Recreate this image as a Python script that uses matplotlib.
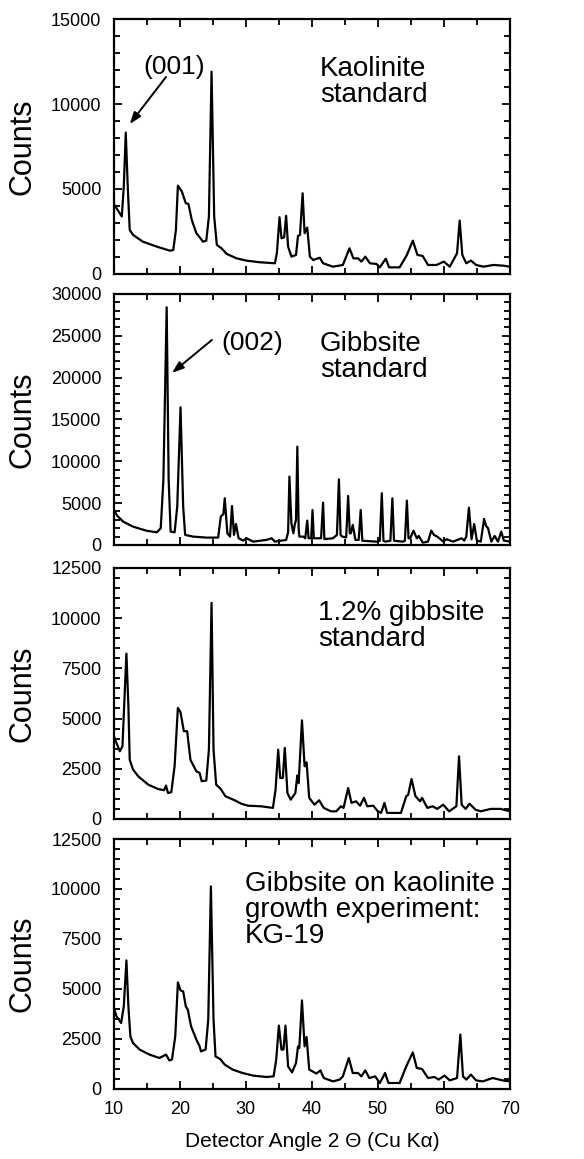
import matplotlib
matplotlib.use("Agg")
import matplotlib.pyplot as plt
from matplotlib.ticker import MultipleLocator

plt.rcParams['font.family'] = ['Liberation Sans', 'DejaVu Sans']

# kaolinite standard
kao_x = [10.0, 10.4, 11.2, 11.5, 11.8, 12.1, 12.4, 12.9, 14.4, 16.5, 18.5, 19.0, 19.4, 19.7, 20.3,
         20.9, 21.3, 21.8, 22.5, 23.0, 23.5, 24.0, 24.4, 24.8, 25.2, 25.6, 26.3, 27.1, 28.6, 30.1,
         32.1, 34.4, 34.7, 35.1, 35.4, 35.8, 36.1, 36.4, 36.9, 37.6, 37.9, 38.2, 38.6, 38.9, 39.3,
         39.7, 40.2, 41.2, 41.7, 43.2, 44.7, 45.7, 46.3, 47.0, 47.5, 48.1, 48.8, 49.8, 50.3, 51.2,
         51.7, 53.3, 54.4, 55.3, 56.0, 56.8, 57.6, 58.9, 60.0, 60.9, 62.0, 62.4, 62.8, 63.4, 64.1,
         64.9, 66.0, 67.5, 69.0, 70.0]
kao_y = [4100, 3870, 3380, 5140, 8320, 5140, 2590, 2300, 1900, 1610, 1370, 1410, 2590, 5200, 4850,
         4160, 4120, 3180, 2400, 2160, 1900, 1960, 3380, 11900, 3380, 1710, 1510, 1180, 920, 785,
         690, 630, 1220, 3340, 2100, 2160, 3420, 1610, 1020, 1120, 2240, 2300, 4750, 2400, 2730,
         1020, 820, 960, 630, 430, 530, 1510, 920, 920, 730, 1020, 630, 590, 390, 900,
         390, 390, 1120, 1960, 1120, 1060, 530, 530, 730, 430, 1220, 3140, 1120, 630, 790,
         530, 430, 530, 490, 430]

# gibbsite standard
gib_x = [10.0, 10.5, 11.4, 12.9, 14.9, 16.5, 17.1, 17.5, 18.0, 18.3, 18.6, 19.2, 19.6, 20.1, 20.5,
         20.8, 22.0, 24.0, 25.8, 26.2, 26.6, 26.8, 27.2, 27.6, 27.9, 28.2, 28.5, 28.9, 29.6, 30.1,
         31.1, 33.1, 33.9, 34.4, 36.1, 36.4, 36.6, 36.9, 37.2, 37.4, 37.6, 37.8, 38.0, 38.1, 38.7,
         39.0, 39.3, 39.5, 39.9, 40.1, 40.3, 41.4, 41.7, 41.9, 43.2, 43.8, 44.1, 44.35, 44.6, 45.2,
         45.5, 45.75, 45.9, 46.2, 46.6, 47.1, 47.4, 47.65, 49.8, 50.3, 50.6, 50.85, 51.1, 51.9, 52.2,
         52.45, 53.8, 54.1, 54.4, 54.65, 54.9, 55.4, 55.9, 56.2, 56.8, 57.6, 58.1, 58.5, 59.0, 59.5,
         59.9, 60.4, 61.4, 62.7, 63.1, 63.4, 63.8, 64.2, 64.6, 65.0, 65.6, 66.1, 66.4, 66.7, 67.2,
         67.7, 68.2, 68.7, 69.1, 70.0]
gib_y = [4180, 3500, 2790, 2190, 1710, 1510, 1990, 7770, 28400, 7770, 1590, 1510, 4580, 16450, 4580,
         1200, 1000, 880, 880, 3390, 3700, 5580, 1390, 1000, 4660, 1200, 2510, 800, 520, 800,
         400, 600, 800, 400, 600, 1500, 8170, 2590, 1390, 2390, 3000, 11750, 2000, 1000, 1000,
         800, 2910, 800, 800, 4180, 800, 800, 5060, 700, 800, 1200, 7850, 1200, 1000, 900,
         5860, 1390, 1390, 2390, 600, 600, 4180, 500, 400, 500, 6180, 500, 400, 500, 5580,
         500, 400, 500, 5300, 800, 800, 1710, 800, 1080, 280, 400, 1710, 1200, 1000, 680,
         400, 680, 400, 800, 520, 1000, 4460, 680, 2510, 520, 400, 3110, 2270, 2000, 400,
         1080, 400, 1590, 520, 400]

# 1.2% gibbsite standard
mix_x = [10.0, 10.4, 10.9, 11.3, 11.6, 11.9, 12.2, 12.4, 12.9, 13.7, 15.2, 16.7, 17.6, 17.9, 18.2,
         18.7, 19.2, 19.7, 20.1, 20.6, 21.1, 21.6, 22.5, 23.0, 23.3, 24.0, 24.4, 24.8, 25.1, 25.5,
         26.2, 26.9, 28.3, 29.3, 30.3, 32.3, 34.1, 34.5, 34.9, 35.2, 35.6, 35.9, 36.3, 36.8, 37.5,
         37.8, 38.0, 38.5, 38.9, 39.2, 39.6, 40.4, 41.1, 41.8, 42.9, 43.7, 44.4, 44.8, 45.5, 46.0,
         46.7, 47.3, 47.9, 48.4, 49.3, 50.0, 50.5, 51.0, 51.4, 53.5, 54.3, 54.6, 55.1, 55.7, 56.4,
         56.7, 57.5, 58.3, 59.0, 59.9, 60.8, 61.9, 62.3, 62.7, 63.3, 63.9, 64.8, 65.6, 67.1, 68.6,
         70.0]
mix_y = [4120, 3780, 3370, 3620, 5940, 8230, 5610, 2950, 2460, 2120, 1710, 1490, 1430, 1660, 1290,
         1330, 2620, 5530, 5310, 4370, 4370, 2950, 2370, 2290, 1880, 1910, 3450, 10760, 3450, 1710,
         1490, 1130, 930, 760, 660, 630, 550, 1460, 3450, 2040, 2040, 3540, 1290, 960, 1290,
         2160, 1790, 4910, 2620, 2820, 1050, 710, 930, 550, 380, 380, 630, 550, 1540, 800,
         880, 660, 1050, 630, 660, 380, 300, 800, 300, 300, 1130, 1200, 1990, 1130, 880,
         1050, 550, 630, 500, 710, 380, 630, 3120, 710, 500, 760, 460, 380, 500, 500,
         380]

# KG-19 growth experiment
kg_x = [10.0, 10.4, 11.1, 11.5, 11.9, 12.2, 12.5, 12.9, 13.9, 15.4, 16.9, 17.9, 18.4, 18.8, 19.3,
        19.7, 20.1, 20.5, 20.9, 21.2, 21.7, 22.5, 23.0, 23.2, 23.9, 24.3, 24.7, 25.1, 25.4, 26.1,
        26.8, 28.0, 29.5, 31.1, 33.1, 34.2, 34.6, 35.0, 35.4, 35.7, 36.0, 36.4, 37.0, 37.6, 37.9,
        38.1, 38.5, 38.9, 39.2, 39.6, 40.7, 41.3, 41.8, 43.2, 44.2, 44.7, 45.6, 46.2, 47.0, 47.5,
        48.1, 48.7, 49.6, 50.3, 51.1, 51.6, 53.3, 54.3, 55.3, 55.9, 56.7, 57.6, 58.6, 59.2, 60.1,
        60.9, 62.0, 62.5, 62.9, 63.4, 64.1, 64.9, 65.9, 67.4, 68.9, 70.0]
kg_y = [4050, 3630, 3300, 4130, 6430, 4130, 2630, 2300, 1970, 1720, 1550, 1720, 1430, 1470, 2630,
        5330, 4930, 4880, 4130, 3970, 3130, 2470, 2130, 1880, 1970, 3470, 10130, 3470, 1630, 1500,
        1220, 970, 800, 670, 600, 630, 1470, 3170, 1970, 1970, 3170, 1130, 830, 1300, 2130,
        2050, 4430, 2130, 2600, 970, 770, 930, 550, 380, 470, 630, 1550, 800, 800, 630,
        930, 550, 630, 300, 800, 300, 300, 1130, 1830, 1050, 1000, 550, 600, 470, 670,
        430, 550, 2720, 630, 470, 720, 430, 380, 550, 430, 380]

panels = [
    (kao_x, kao_y, 15000, 5000, 1000, 0.7636, 0.2200),
    (gib_x, gib_y, 30000, 5000, 1000, 0.5298, 0.2166),
    (mix_x, mix_y, 12500, 2500, 500, 0.2934, 0.2166),
    (kg_x, kg_y, 12500, 2500, 500, 0.0604, 0.2157),
]

fig = plt.figure(figsize=(5.84, 11.59), dpi=100)
axes = []
for i, (x, y, ymax, major, minor, bottom, height) in enumerate(panels):
    ax = fig.add_axes([0.195, bottom, 0.678, height])
    ax.plot(x, y, color='black', lw=1.6)
    ax.set_xlim(10, 70)
    ax.set_ylim(0, ymax)
    ax.xaxis.set_major_locator(MultipleLocator(10))
    ax.xaxis.set_minor_locator(MultipleLocator(5))
    ax.yaxis.set_major_locator(MultipleLocator(major))
    ax.yaxis.set_minor_locator(MultipleLocator(minor))
    ax.tick_params(which='both', direction='in', top=True, right=True, width=1.3, labelsize=13, pad=9)
    ax.tick_params(which='major', length=6)
    ax.tick_params(which='minor', length=4)
    for s in ax.spines.values():
        s.set_linewidth(1.6)
    if i < 3:
        ax.tick_params(labelbottom=False)
    ax.text(-0.23, 0.5, 'Counts', rotation=90, fontsize=22, ha='center', va='center',
            transform=ax.transAxes)
    axes.append(ax)

arrow = dict(arrowstyle='-|>,head_length=0.7,head_width=0.25', color='black', lw=1.4,
             shrinkA=0, shrinkB=0)

ax = axes[0]
ax.text(19.2, 12180, '(001)', fontsize=19, ha='center', va='center')
ax.annotate('', xy=(12.4, 8820), xytext=(17.9, 11590), arrowprops=arrow)
ax.text(41.2, 12800, 'Kaolinite\nstandard', fontsize=20, ha='left', va='top', linespacing=1.0)

ax = axes[1]
ax.text(31.0, 24140, '(002)', fontsize=19, ha='center', va='center')
ax.annotate('', xy=(18.8, 20560), xytext=(24.85, 24500), arrowprops=arrow)
ax.text(41.2, 25600, 'Gibbsite\nstandard', fontsize=20, ha='left', va='top', linespacing=1.0)

ax = axes[2]
ax.text(41.0, 10900, '1.2% gibbsite\nstandard', fontsize=20, ha='left', va='top', linespacing=1.0)

ax = axes[3]
ax.text(29.8, 10900, 'Gibbsite on kaolinite\ngrowth experiment:\nKG-19', fontsize=20,
        ha='left', va='top', linespacing=1.0)
ax.set_xlabel('Detector Angle 2 \u0398 (Cu K\u03b1)', fontsize=15, labelpad=10)

fig.savefig('out.png', dpi=100)
